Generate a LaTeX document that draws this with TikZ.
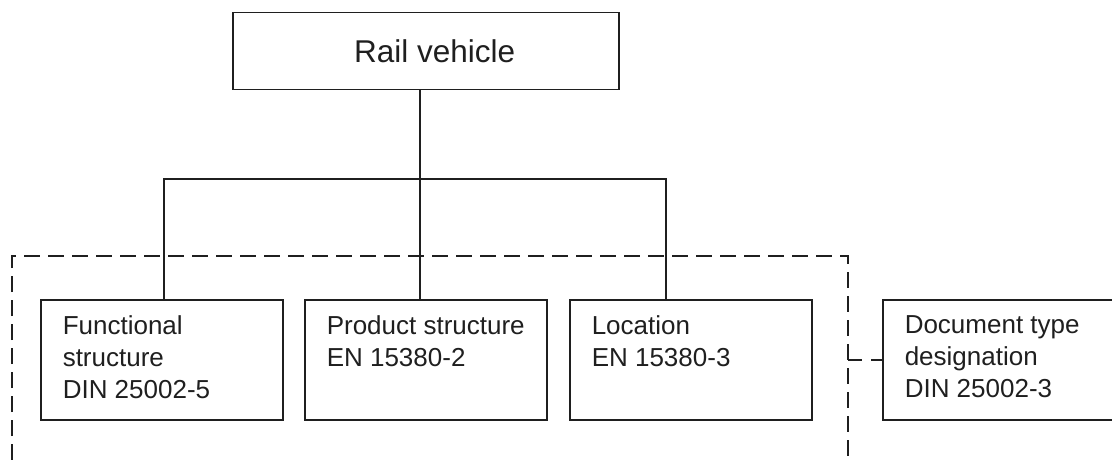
\documentclass[tikz,border=0pt]{standalone}
\usepackage{fontspec}
\setmainfont{Liberation Sans}
\usetikzlibrary{positioning}

\begin{document}
\begin{tikzpicture}[x=1pt, y=-1pt, line width=1.5pt, color=black!88,
		partbox/.style={draw, minimum width=242pt, minimum height=120pt, inner sep=0pt, anchor=north west},
		parttext/.style={anchor=north west, inner sep=0pt, align=left, font=\fontsize{26}{32}\selectfont},
		frameline/.style={dash pattern=on 16pt off 8pt}]
		\useasboundingbox (0,0) rectangle (1112,460);
		\clip (0,0) rectangle (1112,460);
		% top box
		\node[draw, minimum width=386pt, minimum height=77pt, inner sep=0pt, anchor=north west,
			font=\fontsize{31.5}{36}\selectfont] (rail) at (232,12) {\hspace{18pt}Rail vehicle};
		% the four parts
		\node[partbox] (func) at (40,299) {};
		\node[partbox] (prod) at (304,299) {};
		\node[partbox] (loc) at (569,299) {};
		\node[partbox] (doc) at (882,299) {};
		\node[parttext] (func-t) at ([xshift=22pt, yshift=-16pt]func.north west) {Functional\\structure\\DIN 25002-5};
		\node[parttext] (prod-t) at ([xshift=22pt, yshift=-16pt]prod.north west) {Product structure\\EN 15380-2};
		\node[parttext] (loc-t) at ([xshift=22pt, yshift=-16pt]loc.north west) {Location\\EN 15380-3};
		\node[parttext] (doc-t) at ([xshift=22pt, yshift=-16pt]doc.north west) {Document type\\designation\\DIN 25002-3};
		% tree
		\coordinate (drop-f) at (164,179);
		\coordinate (drop-p) at (420,179);
		\coordinate (drop-l) at (666,179);
		\draw (rail.south -| drop-p) -- (drop-p |- prod.north);
		\draw (drop-f |- func.north) -- (drop-f) -- (drop-l) -- (drop-l |- loc.north);
		% dashed frame
		\coordinate (fr-nw) at (12,256);
		\coordinate (fr-ne) at (848,256);
		\draw[frameline] (12,460) -- (fr-nw) -- (fr-ne) -- (848,460);
		\draw[dash pattern=on 14pt off 9pt on 11pt] (doc.west -| fr-ne) -- (doc.west);
	\end{tikzpicture}
\end{document}
